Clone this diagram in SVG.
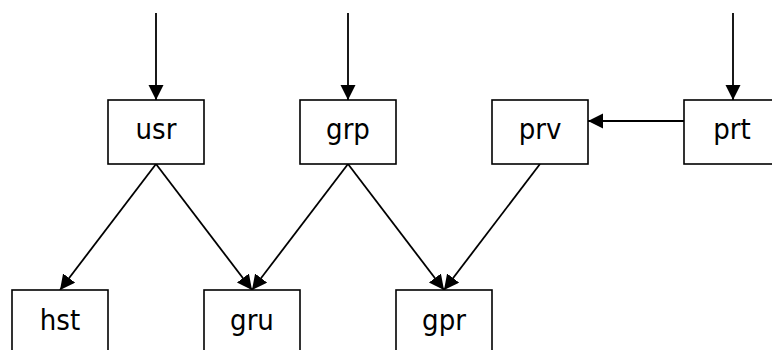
<svg xmlns="http://www.w3.org/2000/svg" width="772" height="350" viewBox="0 0 772 350">
<defs>
<marker id="ah" markerUnits="userSpaceOnUse" markerWidth="16" markerHeight="16" refX="15" refY="7.5" orient="auto">
<path d="M0,0 L15,7.5 L0,15 z" fill="#000"/>
</marker>
<style>
.box{fill:#fff;stroke:#000;stroke-width:1.6}
.lbl{font-family:"DejaVu Sans Condensed","DejaVu Sans",sans-serif;font-size:29px;fill:#000;text-anchor:middle}
.edge{stroke:#000;stroke-width:1.8;fill:none;marker-end:url(#ah)}
</style>
</defs>
<rect width="772" height="350" fill="#fff"/>
<g id="connectors">
<line class="edge" x1="156" y1="13" x2="156" y2="100"/>
<line class="edge" x1="348" y1="13" x2="348" y2="100"/>
<line class="edge" x1="733" y1="13" x2="733" y2="100"/>
<line class="edge" x1="684" y1="121" x2="588" y2="121"/>
<line class="edge" x1="156" y1="164" x2="60" y2="290"/>
<line class="edge" x1="156" y1="164" x2="252" y2="290"/>
<line class="edge" x1="348" y1="164" x2="252" y2="290"/>
<line class="edge" x1="348" y1="164" x2="444" y2="290"/>
<line class="edge" x1="540" y1="164" x2="444" y2="290"/>
</g>
<g id="usr"><rect class="box" x="108" y="100" width="96" height="64"/><text class="lbl" x="156" y="139">usr</text></g>
<g id="grp"><rect class="box" x="300" y="100" width="96" height="64"/><text class="lbl" x="348" y="139">grp</text></g>
<g id="prv"><rect class="box" x="492" y="100" width="96" height="64"/><text class="lbl" x="540" y="139">prv</text></g>
<g id="prt"><rect class="box" x="684" y="100" width="96" height="64"/><text class="lbl" x="732" y="139">prt</text></g>
<g id="hst"><rect class="box" x="12" y="290" width="96" height="64"/><text class="lbl" x="60" y="330">hst</text></g>
<g id="gru"><rect class="box" x="204" y="290" width="96" height="64"/><text class="lbl" x="252" y="330">gru</text></g>
<g id="gpr"><rect class="box" x="396" y="290" width="96" height="64"/><text class="lbl" x="444" y="330">gpr</text></g>
</svg>
